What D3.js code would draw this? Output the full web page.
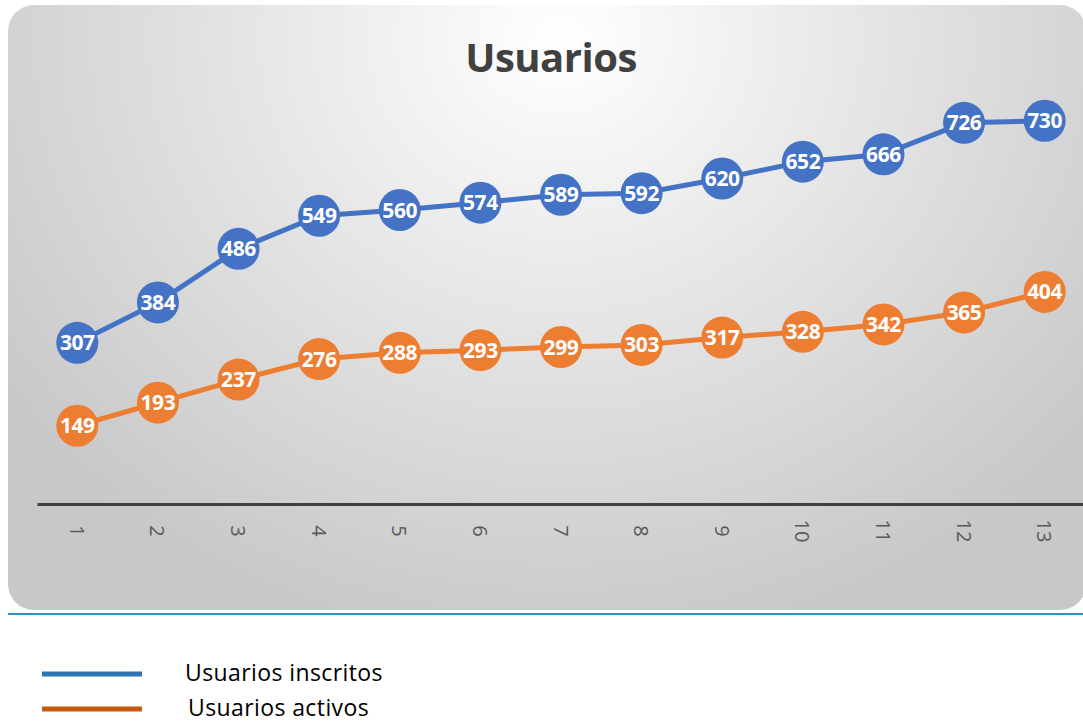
<!DOCTYPE html>
<html>
<head>
  <meta charset="utf-8">
  <script src="https://d3js.org/d3.v7.min.js"></script>
  <style>
    body { margin: 0; background: #fff; }
    svg { display: block; }
  </style>
</head>
<body>
  <svg id="viz"></svg>
  <script>
    // chart data
    let months = ["1", "2", "3", "4", "5", "6", "7", "8", "9", "10", "11", "12", "13"];
    let inscritos = [307, 384, 486, 549, 560, 574, 589, 592, 620, 652, 666, 726, 730];
    let activos = [149, 193, 237, 276, 288, 293, 299, 303, 317, 328, 342, 365, 404];
    let seriesNames = ["Usuarios inscritos", "Usuarios activos"];

    let width = 1083, height = 722;
    let svg = d3.select("#viz").attr("width", width).attr("height", height);

    // panel background
    let defs = svg.append("defs");
    let grad = defs.append("radialGradient")
      .attr("id", "bg")
      .attr("gradientUnits", "userSpaceOnUse")
      .attr("cx", 560).attr("cy", 40).attr("r", 680)
      .attr("gradientTransform", "translate(560,40) scale(1,0.9) translate(-560,-40)");
    grad.append("stop").attr("offset", "0%").attr("stop-color", "#ffffff");
    grad.append("stop").attr("offset", "50%").attr("stop-color", "#e3e3e3");
    grad.append("stop").attr("offset", "100%").attr("stop-color", "#c8c8c8");

    svg.append("rect")
      .attr("x", 8).attr("y", 5)
      .attr("width", 1078).attr("height", 605)
      .attr("rx", 26).attr("ry", 26)
      .attr("fill", "url(#bg)");

    // blue rule under the panel
    svg.append("line")
      .attr("x1", 8).attr("x2", width)
      .attr("y1", 614).attr("y2", 614)
      .attr("stroke", "#2e8fd0").attr("stroke-width", 2);

    // title
    svg.append("text")
      .attr("x", 551).attr("y", 72)
      .attr("text-anchor", "middle")
      .attr("font-family", "Open Sans, sans-serif")
      .attr("font-weight", "bold")
      .attr("font-size", 40)
      .attr("letter-spacing", -0.5)
      .attr("fill", "#404040")
      .text("Usuarios");

    // scales
    let x = d3.scaleBand().domain(months).range([37, 1085]);
    let y = d3.scaleLinear().domain([0, 800]).range([504, 84]);

    // x axis
    let xAxis = svg.append("g")
      .attr("transform", "translate(0,504)")
      .call(d3.axisBottom(x).tickSize(0).tickPadding(0));
    xAxis.select(".domain").attr("stroke", "#404040").attr("stroke-width", 3);
    xAxis.selectAll(".tick text")
      .attr("font-family", "Open Sans, sans-serif")
      .attr("font-size", 20)
      .attr("fill", "#595959")
      .attr("text-anchor", "middle")
      .attr("dy", null)
      .attr("transform", "translate(0,27) rotate(90)")
      .attr("dominant-baseline", "central");

    let cx = d => x(d) + x.bandwidth() / 2;

    let series = [
      { values: inscritos, color: "#4472c4" },
      { values: activos, color: "#ed7d31" }
    ];

    let line = d3.line().x(d => cx(d.m)).y(d => y(d.v));

    series.forEach(s => {
      let pts = months.map((m, i) => ({ m: m, v: s.values[i] }));
      let g = svg.append("g");
      g.append("path")
        .datum(pts)
        .attr("d", line)
        .attr("fill", "none")
        .attr("stroke", s.color)
        .attr("stroke-width", 5);
      g.selectAll("circle")
        .data(pts)
        .enter()
        .append("circle")
        .attr("cx", d => cx(d.m))
        .attr("cy", d => y(d.v))
        .attr("r", 21)
        .attr("fill", s.color);
      g.selectAll("text")
        .data(pts)
        .enter()
        .append("text")
        .attr("x", d => cx(d.m))
        .attr("y", d => y(d.v))
        .attr("dy", "0.36em")
        .attr("text-anchor", "middle")
        .attr("font-family", "Open Sans, sans-serif")
        .attr("font-weight", "bold")
        .attr("font-size", 21)
        .attr("letter-spacing", -0.4)
        .attr("fill", "#ffffff")
        .text(d => d.v);
    });

    // legend
    let legend = [
      { name: seriesNames[0], color: "#2e75b6", y: 673, tx: 185 },
      { name: seriesNames[1], color: "#c55a11", y: 708, tx: 188 }
    ];
    legend.forEach(l => {
      svg.append("line")
        .attr("x1", 42).attr("x2", 142)
        .attr("y1", l.y + 1).attr("y2", l.y + 1)
        .attr("stroke", l.color).attr("stroke-width", 5);
      svg.append("text")
        .attr("x", l.tx).attr("y", l.y)
        .attr("dy", "0.35em")
        .attr("font-family", "Open Sans, sans-serif")
        .attr("font-size", 23)
        .attr("letter-spacing", 0.4)
        .attr("fill", "#000")
        .text(l.name);
    });
  </script>
</body>
</html>
